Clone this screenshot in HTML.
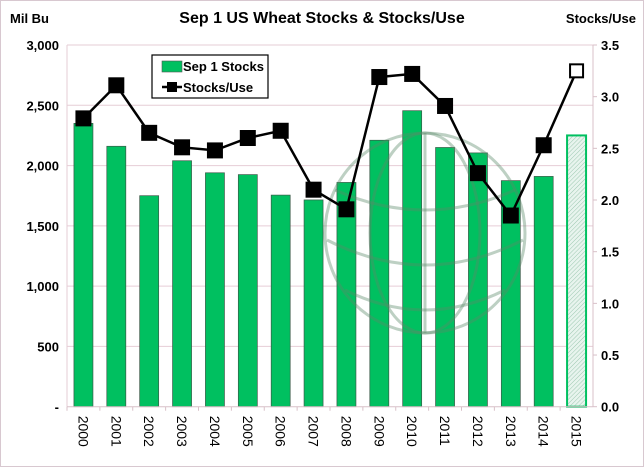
<!DOCTYPE html>
<html><head><meta charset="utf-8"><style>
html,body{margin:0;padding:0;background:#fff}
svg{display:block;font-family:"Liberation Sans",sans-serif}
</style></head><body>
<svg id="chart" width="644" height="468" viewBox="0 0 644 468">
<rect x="0.5" y="0.5" width="643" height="466" fill="#fff" stroke="#d8c8d0"/>
<text x="322" y="23" text-anchor="middle" font-size="16" font-weight="bold" fill="#000">Sep 1 US Wheat Stocks &amp; Stocks/Use</text>
<text x="10" y="23" font-size="13" font-weight="bold">Mil Bu</text>
<text x="636" y="23" text-anchor="end" font-size="13" font-weight="bold">Stocks/Use</text>
<g id="grid"></g>
<g id="bars"></g>
<g fill="none" stroke="#5a8a6a" stroke-opacity="0.4" stroke-width="3">
<circle cx="425" cy="233" r="100"/>
<ellipse cx="425" cy="233" rx="55" ry="100"/>
<line x1="425" y1="133" x2="425" y2="333"/>
<path d="M335 190 Q425 230 515 190"/>
<path d="M327 240 Q425 290 523 240"/>
<path d="M345 290 Q425 330 505 290"/>
</g>
<g id="line"></g>
<g id="axes"></g>
<g>
<rect x="152" y="55" width="116" height="43" fill="#fff" stroke="#000" stroke-width="1.2"/>
<rect x="162" y="61" width="20" height="11" fill="#00c060" stroke="#555" stroke-width="0.6"/>
<text x="183" y="71" font-size="13" font-weight="bold">Sep 1 Stocks</text>
<line x1="162" y1="87" x2="182" y2="87" stroke="#000" stroke-width="2.5"/>
<rect x="167" y="82" width="10" height="10" fill="#000"/>
<text x="183" y="92" font-size="13" font-weight="bold">Stocks/Use</text>
</g>
</svg>
<script>
const years=["2000","2001","2002","2003","2004","2005","2006","2007","2008","2009","2010","2011","2012","2013","2014","2015"];
const stocks=[2350,2160,1750,2040,1940,1925,1755,1715,1860,2210,2455,2150,2105,1875,1910,2250];
const ratio=[2.79,3.11,2.65,2.51,2.48,2.60,2.67,2.10,1.91,3.19,3.22,2.91,2.26,1.85,2.53,3.25];
const leftTicks=[0,500,1000,1500,2000,2500,3000];
const leftLabels=["-","500","1,000","1,500","2,000","2,500","3,000"];
const rightTicks=[0,0.5,1,1.5,2,2.5,3,3.5];
const NS="http://www.w3.org/2000/svg";
const L=67,R=593,T=45,B=406.7;
const cw=(R-L)/years.length;
function xc(i){return L+cw*(i+0.5);}
function yl(v){return B-(v/3000)*(B-T);}
function yr(v){return B-(v/3.5)*(B-T);}
function mk(tag,attrs,parent){const e=document.createElementNS(NS,tag);for(const k in attrs)e.setAttribute(k,attrs[k]);parent.appendChild(e);return e;}
const grid=document.getElementById('grid'),bars=document.getElementById('bars'),line=document.getElementById('line'),axes=document.getElementById('axes');
const defs=mk('defs',{},document.getElementById('chart'));
const pat=mk('pattern',{id:'hatch',width:3,height:3,patternUnits:'userSpaceOnUse',patternTransform:'rotate(45)'},defs);
mk('rect',{width:3,height:3,fill:'#e8f4ee'},pat);
mk('line',{x1:0,y1:0,x2:0,y2:3,stroke:'#9cc8b0','stroke-width':1},pat);
leftTicks.forEach((v,i)=>{
  if(v>0){const g=mk('line',{x1:L,x2:R,y1:yl(v),y2:yl(v),stroke:'#e6cdd6','stroke-width':1},grid);
  
  }
  const t=mk('text',{x:L-8,y:yl(v)+5,'text-anchor':'end','font-size':13,'font-weight':'bold'},axes);
  t.textContent=leftLabels[i];
  
  
});
mk('line',{x1:L,x2:L,y1:T,y2:B,stroke:'#e6cdd6'},axes);
mk('line',{x1:L,x2:R,y1:B,y2:B,stroke:'#d8c0c8'},axes);
mk('line',{x1:R,x2:R,y1:T,y2:B,stroke:'#d8c0c8'},axes);
rightTicks.forEach(v=>{
  mk('line',{x1:R,x2:R+4,y1:yr(v),y2:yr(v),stroke:'#d8c0c8'},axes);
  const t=mk('text',{x:R+8,y:yr(v)+5,'font-size':13,'font-weight':'bold'},axes);
  t.textContent=v.toFixed(1);
  
  
});
years.forEach((y,i)=>{
  mk('line',{x1:L+cw*i,x2:L+cw*i,y1:B,y2:B+4,stroke:'#d8c0c8'},axes);
  const bw=19,x=xc(i)-bw/2,top=yl(stocks[i]);
  const last=i===years.length-1;
  const b=mk('rect',{x:x,y:top,width:bw,height:B-top,fill:last?'url(#hatch)':'#00c060',stroke:last?'#00c060':'#3a5a48','stroke-width':last?2:0.7},bars);
  
  
  const t=mk('text',{transform:`translate(${xc(i)-5},${B+9}) rotate(90)`,'font-size':14},axes);
  t.textContent=y;
  
  
});
const pts=ratio.map((v,i)=>xc(i)+','+yr(v)).join(' ');
const pl=mk('polyline',{points:pts,fill:'none',stroke:'#000','stroke-width':2.5},line);


ratio.forEach((v,i)=>{
  const last=i===ratio.length-1;
  const s=last?13:15;
  const m=mk('rect',{x:xc(i)-s/2,y:yr(v)-s/2,width:s,height:s,fill:last?'#fff':'#000',stroke:'#000','stroke-width':last?2:1},line);
  
  
});
</script>
</body></html>
